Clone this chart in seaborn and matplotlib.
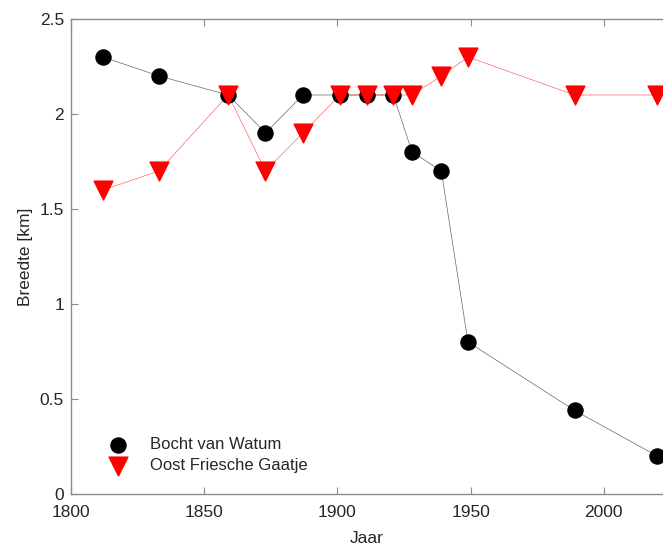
import matplotlib
matplotlib.use("Agg")
import matplotlib.pyplot as plt
import seaborn as sns
import pandas as pd

# data
jaar = [1812, 1833, 1859, 1873, 1887, 1901, 1911, 1921, 1928, 1939, 1949, 1989, 2020]
bocht_van_watum = [2.3, 2.2, 2.1, 1.9, 2.1, 2.1, 2.1, 2.1, 1.8, 1.7, 0.8, 0.44, 0.2]
oost_friesche_gaatje = [1.6, 1.7, 2.1, 1.7, 1.9, 2.1, 2.1, 2.1, 2.1, 2.2, 2.3, 2.1, 2.1]

df = pd.DataFrame({'jaar': jaar, 'watum': bocht_van_watum, 'gaatje': oost_friesche_gaatje})

sns.set_style("white")
plt.rcParams['font.family'] = ['Liberation Sans', 'DejaVu Sans']

fig = plt.figure(figsize=(6.63, 5.47), dpi=100)
ax = fig.add_axes([0.1071, 0.0969, 0.8929, 0.8684])

# thin connecting lines
sns.lineplot(data=df, x='jaar', y='watum', ax=ax, color='black', lw=0.5, alpha=0.6)
sns.lineplot(data=df, x='jaar', y='gaatje', ax=ax, color='red', lw=0.5, alpha=0.6)

# markers
sns.scatterplot(data=df, x='jaar', y='watum', ax=ax, color='black', marker='o',
                s=120, edgecolor='black', label='Bocht van Watum', zorder=3)
sns.scatterplot(data=df, x='jaar', y='gaatje', ax=ax, color='red', marker='v',
                s=180, edgecolor='red', label='Oost Friesche Gaatje', zorder=4)

ax.set_xlim(1800, 2022.2)
ax.set_ylim(0, 2.5)
ax.set_xticks([1800, 1850, 1900, 1950, 2000])
ax.set_yticks([0, 0.5, 1, 1.5, 2, 2.5])
ax.set_yticklabels(['0', '0.5', '1', '1.5', '2', '2.5'])

ax.set_xlabel('Jaar', fontsize=12.5, color='#262626', labelpad=8)
ax.set_ylabel('Breedte [km]', fontsize=12.5, color='#262626', labelpad=5)

for side in ['top', 'left', 'bottom']:
    ax.spines[side].set_color('#8c8c8c')
    ax.spines[side].set_linewidth(1.0)
ax.spines['right'].set_visible(False)

ax.tick_params(direction='in', length=5, width=0.8, color='#8c8c8c',
               labelsize=12.5, labelcolor='#262626', top=True, bottom=True, left=True)
ax.tick_params(axis='x', pad=8)
ax.tick_params(axis='y', pad=5)

leg = ax.legend(loc='lower left', bbox_to_anchor=(0.04, 0.03), frameon=False,
                fontsize=12, handletextpad=0.9, labelspacing=0.35, borderaxespad=0)

fig.savefig('out.png', dpi=100)
